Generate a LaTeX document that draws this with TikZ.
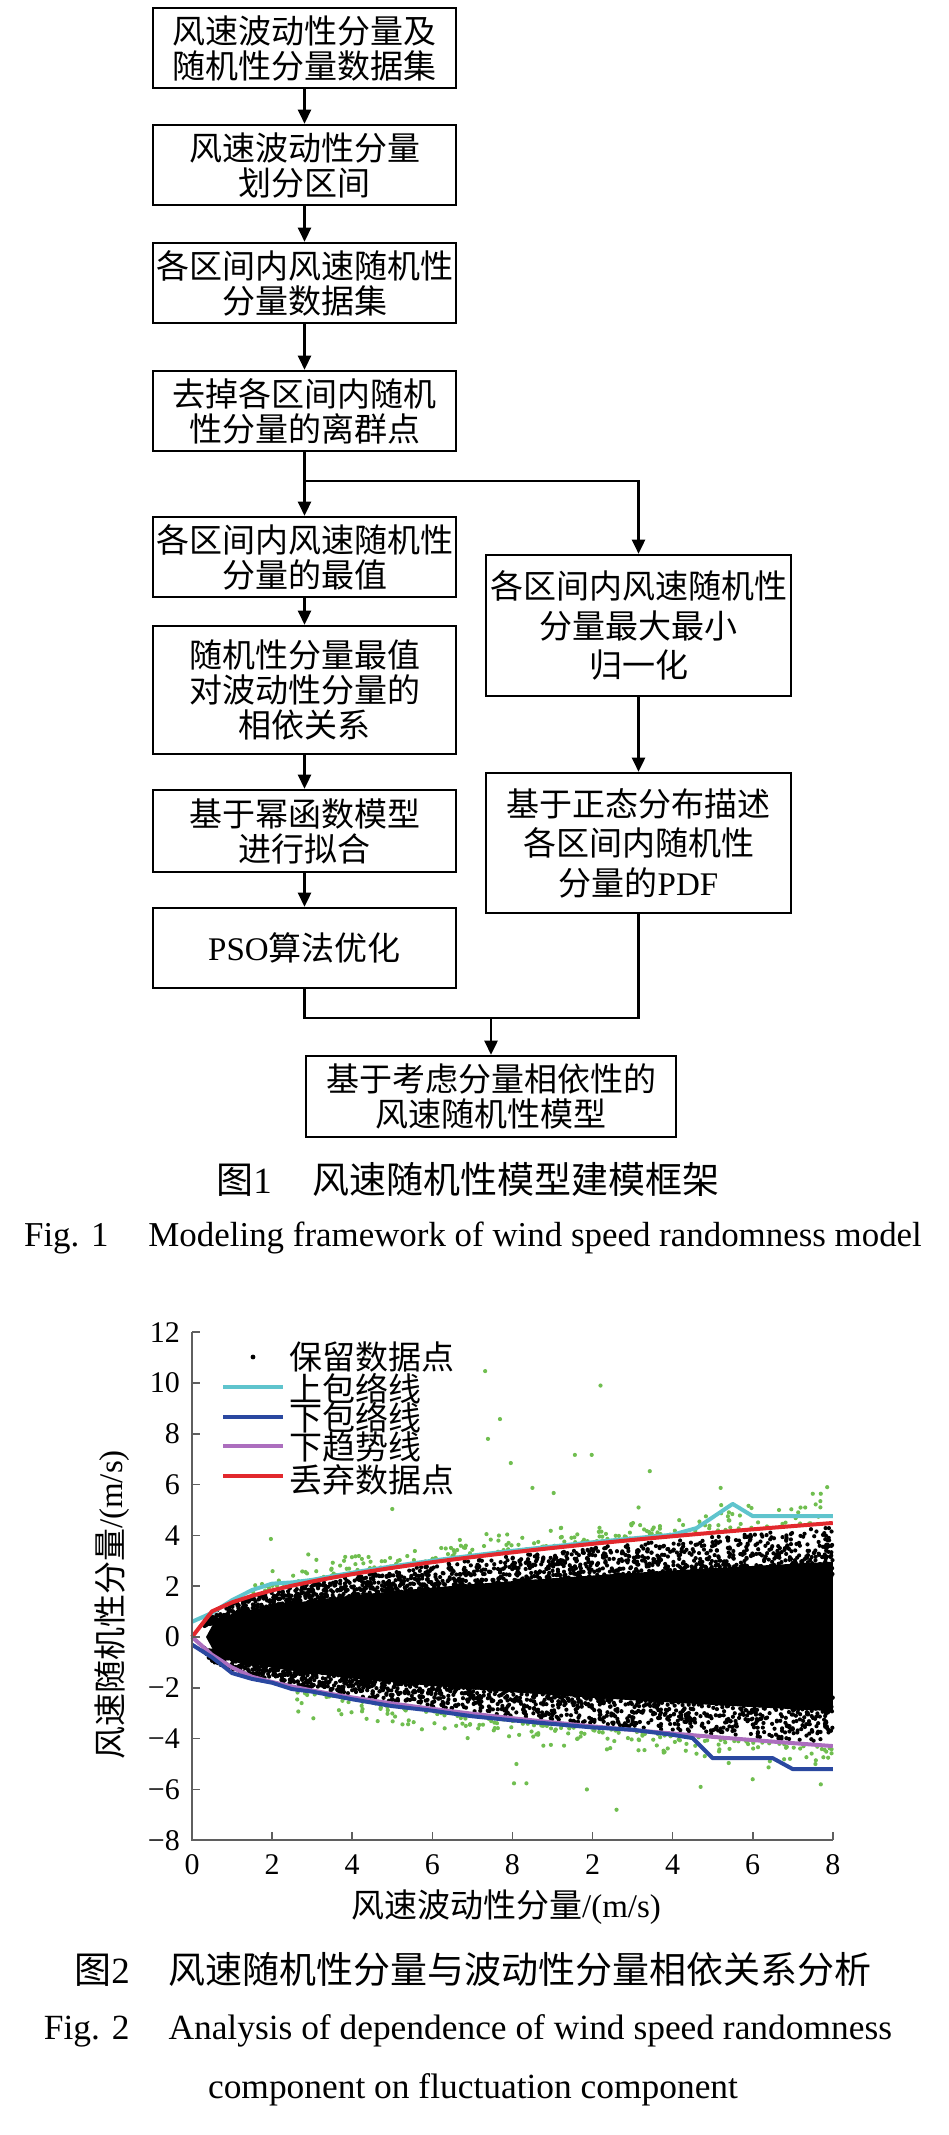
\documentclass[tikz,border=0pt]{standalone}
\usepackage{fontspec}
\setmainfont{Liberation Serif}
\newfontfamily\cjk{Noto Sans CJK SC}
\usetikzlibrary{arrows.meta}
\newcommand\lt[1]{{\rmfamily #1}}
\definecolor{ccyan}{RGB}{95,196,205}
\definecolor{cblue}{RGB}{42,72,160}
\definecolor{cpurp}{RGB}{172,110,190}
\definecolor{cred}{RGB}{226,40,45}
\definecolor{cgreen}{RGB}{112,190,80}
\definecolor{caxis}{RGB}{95,95,95}
\begin{document}
\begin{tikzpicture}[x=1pt,y=-1pt,
  fbox/.style={draw, line width=2.6pt, inner sep=0pt, align=center, minimum width=303pt, font=\cjk\fontsize{33}{35}\selectfont},
  rbox/.style={fbox, minimum width=305pt, font=\cjk\fontsize{33}{39.5}\selectfont},
  arr/.style={line width=2.6pt, -{Triangle[length=14pt,width=13pt]}},
  conn/.style={line width=2.6pt},
  legtxt/.style={anchor=west, inner sep=0pt, font=\cjk\fontsize{33}{33}\selectfont},
  ticklab/.style={inner sep=0pt, font=\fontsize{30}{30}\selectfont},
  captxt/.style={inner sep=0pt, font=\cjk\fontsize{37}{37}\selectfont},
  ecaptxt/.style={inner sep=0pt, font=\fontsize{35.4}{36}\selectfont},
  axisline/.style={draw=caxis, line width=1.6pt},
  curve/.style={line width=4pt, line join=round}
]
\useasboundingbox (0,0) rectangle (949,2135);

% ---------------- flowchart ----------------
\node[fbox, minimum height=80pt] (b1) at (304.5,48) {风速波动性分量及\\随机性分量数据集};
\node[fbox, minimum height=80pt] (b2) at (304.5,165) {风速波动性分量\\划分区间};
\node[fbox, minimum height=80pt] (b3) at (304.5,283) {各区间内风速随机性\\分量数据集};
\node[fbox, minimum height=80pt] (b4) at (304.5,411) {去掉各区间内随机\\性分量的离群点};
\node[fbox, minimum height=80pt] (b5) at (304.5,557) {各区间内风速随机性\\分量的最值};
\node[fbox, minimum height=128pt] (b6) at (304.5,690) {随机性分量最值\\对波动性分量的\\相依关系};
\node[fbox, minimum height=82pt] (b7) at (304.5,831) {基于幂函数模型\\进行拟合};
\node[fbox, minimum height=80pt] (b8) at (304.5,948) {\lt{PSO}算法优化};
\node[rbox, minimum height=141pt] (r1) at (638.5,625.5) {各区间内风速随机性\\分量最大最小\\归一化};
\node[rbox, minimum height=140pt] (r2) at (638.5,843) {基于正态分布描述\\各区间内随机性\\分量的\lt{PDF}};
\node[fbox, minimum width=370pt, minimum height=81pt] (b9) at (491,1096.5) {基于考虑分量相依性的\\风速随机性模型};

\draw[arr] (b1) -- (b2);
\draw[arr] (b2) -- (b3);
\draw[arr] (b3) -- (b4);
\coordinate (s) at (304.5,481);
\draw[conn] (b4.south) -- (s);
\draw[arr] (s) -- (b5);
\draw[arr] (s) -| (r1.north);
\draw[arr] (b5) -- (b6);
\draw[arr] (b6) -- (b7);
\draw[arr] (b7) -- (b8);
\draw[arr] (r1) -- (r2);
\coordinate (m) at (491,1018);
\draw[conn] (b8.south) |- (m) -| (r2.south);
\draw[arr] (m) -- (b9.north);

\node[captxt] (c1) at (468,1179) {图\lt{1}\hspace{41pt}风速随机性模型建模框架};
\node[ecaptxt, font=\fontsize{34.9}{36}\selectfont] (e1) at (473,1238) {Fig. 1\hspace{40pt}Modeling framework of wind speed randomness model};

% ---------------- plot ----------------
\begin{scope}[shift={(192pt,-1637pt)}, x=40.05pt, y=25.4pt]
  \pgfmathsetseed{7}
  % dense core
  \fill[black] (0.35,0) -- plot[domain=0.6:16,samples=32] (\x,{0.66*1.363*pow(\x,0.43)})
     -- plot[domain=16:0.6,samples=32] (\x,{-0.68*1.318*pow(\x,0.426)}) -- cycle;
  % fringe of retained points
  \foreach \i in {1,...,5200}{
    \pgfmathsetmacro\xx{0.3+15.7*rnd}
    \pgfmathsetmacro\uu{rnd}
    \pgfmathsetmacro\yy{(rnd<0.5) ? (0.96*1.363*pow(\xx,0.43)*(0.55+0.45*\uu*\uu)) : (-0.97*1.318*pow(\xx,0.426)*(0.55+0.45*\uu*\uu))}
    \fill[black] (\xx,\yy) circle[radius=2.1pt];
  }
  % discarded points (green)
  \foreach \i in {1,...,200}{
    \pgfmathsetmacro\xx{1.5+14.5*rnd}
    \pgfmathsetmacro\yy{1.363*pow(\xx,0.43)+0.05+1.1*rnd*rnd}
    \fill[cgreen] (\xx,\yy) circle[radius=2.1pt];
  }
  \foreach \i in {1,...,200}{
    \pgfmathsetmacro\xx{2.5+13.5*rnd}
    \pgfmathsetmacro\yy{-1.318*pow(\xx,0.426)-0.05-1.1*rnd*rnd}
    \fill[cgreen] (\xx,\yy) circle[radius=2.1pt];
  }
  \foreach \a/\b in {7.32/10.47, 10.2/9.9, 7.69/8.58, 7.39/7.8, 7.96/6.85, 9.56/7.17, 9.98/7.17, 11.43/6.53, 1.97/3.86, 5.0/5.04, 8.5/5.87, 9.03/5.67, 13.2/5.87, 15.5/5.64, 15.7/5.64, 15.86/5.9, 11.15/5.1, 10.6/-6.8, 9.86/-6.0, 8.04/-5.76, 8.35/-5.76, 8.1/-5.0, 12.7/-5.9, 14.0/-5.6, 15.7/-5.8, 3.03/-3.2}
    \fill[cgreen] (\a,\b) circle[radius=2.1pt];
  % curves
  \draw[curve, cpurp] (0,0) -- (0.5,-0.7) -- (1,-1.2) -- plot[domain=1.5:16,samples=30] (\x,{-1.318*pow(\x,0.426)});
  \draw[curve, cblue] (0,-0.3) -- (0.5,-0.8) -- (1,-1.42) -- (1.5,-1.65) -- (2,-1.8) -- (2.5,-2.05) -- (3,-2.15) -- (3.5,-2.3) -- (4,-2.45) -- (5,-2.72) -- (6,-2.9) -- (7,-3.12) -- (8,-3.28) -- (9,-3.42) -- (10,-3.56) -- (11,-3.65) -- (12,-3.85) -- (12.5,-3.98) -- (13,-4.77) -- (14.5,-4.77) -- (15,-5.2) -- (16,-5.2);
  \draw[curve, ccyan] (0,0.6) -- (0.5,0.95) -- (1,1.45) -- (1.5,1.85) -- (2,2.1) -- (2.5,2.15) -- (3,2.25) -- plot[domain=3.5:12,samples=18] (\x,{1.363*pow(\x,0.43)+0.06}) -- (12.6,4.29) -- (13.5,5.24) -- (14,4.76) -- (16,4.76);
  \draw[curve, cred] (0,0) -- plot[domain=0.5:16,samples=32] (\x,{1.363*pow(\x,0.43)});
  % axes
  \draw[axisline] (0,12) -- (0,-8) -- (16,-8);
  \foreach \y in {-8,-6,...,12} \draw[axisline] (0,\y) -- ++(8pt,0);
  \foreach \x in {2,4,...,16} \draw[axisline] (\x,-8) -- ++(0,8pt);
  \foreach \y/\t [count=\k] in {12/12,10/10,8/8,6/6,4/4,2/2,0/0,-2/−2,-4/−4,-6/−6,-8/−8}
    \node[ticklab, anchor=east] (yl\k) at (-0.3,\y) {\t};
  \foreach \x/\t [count=\k] in {0/0,2/2,4/4,6/6,8/8,10/2,12/4,14/6,16/8}
    \node[ticklab] (xl\k) at (\x,-8.97) {\t};
\end{scope}

% legend
\fill[black] (253,1357) circle[radius=2.4pt];
\draw[curve, ccyan] (223,1387) -- (283,1387);
\draw[curve, cblue] (223,1417) -- (283,1417);
\draw[curve, cpurp] (223,1446) -- (283,1446);
\draw[curve, cred] (223,1476) -- (283,1476);
\node[legtxt] (l1) at (289,1357) {保留数据点};
\node[legtxt] (l2) at (289,1389) {上包络线};
\node[legtxt] (l3) at (289,1418) {下包络线};
\node[legtxt] (l4) at (289,1447) {下趋势线};
\node[legtxt] (l5) at (289,1480) {丢弃数据点};

% axis titles
\node[inner sep=0pt, font=\cjk\fontsize{33}{33}\selectfont] (xt) at (506,1907) {风速波动性分量\lt{/(m/s)}};
\node[inner sep=0pt, rotate=90, font=\cjk\fontsize{33}{33}\selectfont] (yt) at (112.5,1605) {风速随机性分量\lt{/(m/s)}};

% captions
\node[captxt] (c2) at (473,1969) {图\lt{2}\hspace{39pt}风速随机性分量与波动性分量相依关系分析};
\node[ecaptxt] (e2) at (468,2031) {Fig. 2\hspace{39pt}Analysis of dependence of wind speed randomness};
\node[ecaptxt] (e3) at (473,2090) {component on fluctuation component};
\end{tikzpicture}
\end{document}
